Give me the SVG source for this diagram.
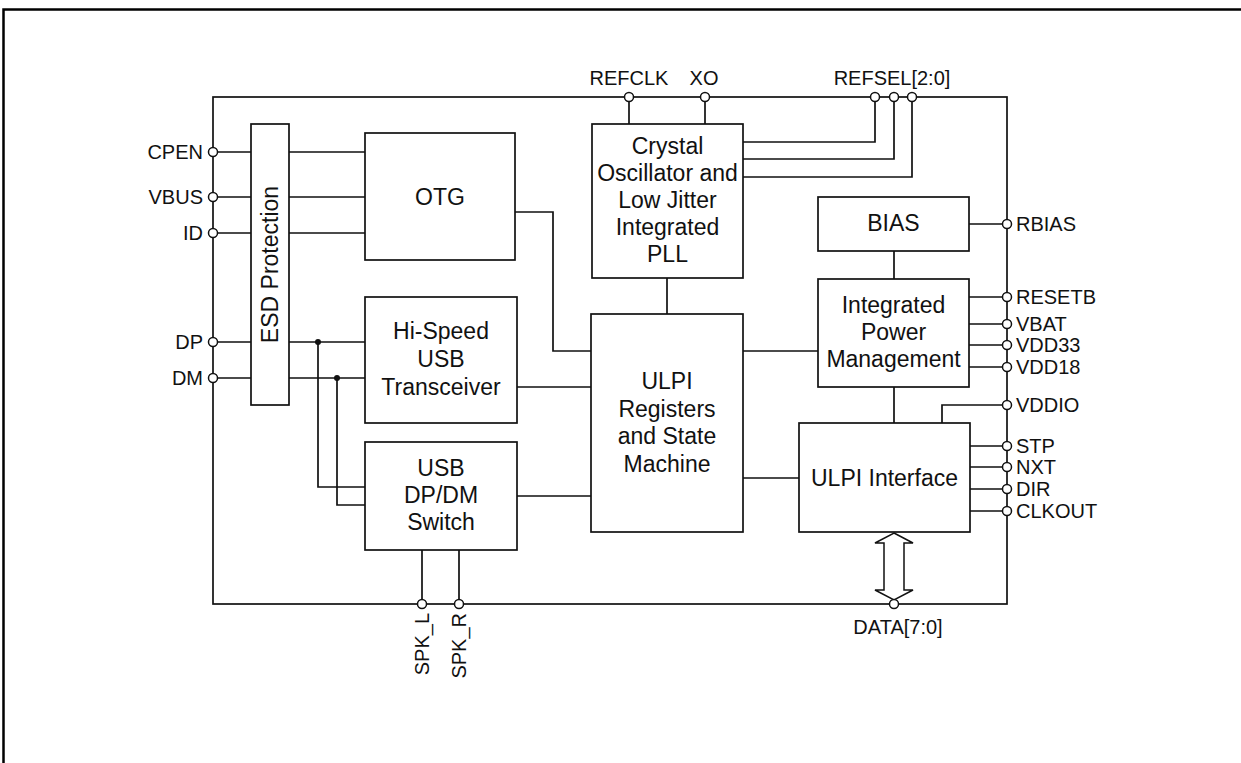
<svg xmlns="http://www.w3.org/2000/svg" width="1241" height="763" viewBox="0 0 1241 763">
<style>
.box{fill:#fff;stroke:#111;stroke-width:1.7}
.w{fill:none;stroke:#111;stroke-width:1.7}
.pin{fill:#fff;stroke:#111;stroke-width:1.5}
.dot{fill:#111}
.bt{font-family:"Liberation Sans",Arial,sans-serif;font-size:23px;fill:#111;text-anchor:middle}
.pl{font-family:"Liberation Sans",Arial,sans-serif;font-size:20px;fill:#111}
.e{text-anchor:end}
.m{text-anchor:middle}
</style>
<rect x="0" y="0" width="1241" height="763" fill="#fff"/>
<path d="M3.5,770 V9.5 H1250" fill="none" stroke="#000" stroke-width="2.5"/>

<g id="chip">
<rect x="213" y="97" width="794" height="507" fill="none" stroke="#111" stroke-width="1.7"/>
</g>

<g id="connectors">
<!-- left pins to ESD -->
<path class="w" d="M213,152 H251 M213,197 H251 M213,233 H251 M213,342 H251 M213,378 H251"/>
<!-- ESD to OTG -->
<path class="w" d="M289,152 H365 M289,197 H365 M289,233 H365"/>
<!-- ESD to transceiver -->
<path class="w" d="M289,342 H365 M289,378 H365"/>
<!-- to switch -->
<path class="w" d="M318,342 V487 H365 M337,378 V505 H365"/>
<!-- OTG to ULPI regs -->
<path class="w" d="M515,212 H553 V351 H591"/>
<!-- transceiver / switch to ULPI regs -->
<path class="w" d="M517,387 H591 M517,496 H591"/>
<!-- crystal to ULPI regs -->
<path class="w" d="M667,278 V314"/>
<!-- REFCLK / XO -->
<path class="w" d="M629,97 V124 M705,97 V124"/>
<!-- REFSEL -->
<path class="w" d="M743,142 H875 V97 M743,159 H894 V97 M743,177 H912 V97"/>
<!-- ULPI regs to power / interface -->
<path class="w" d="M743,351 H818 M743,478 H799"/>
<!-- BIAS / power / interface verticals -->
<path class="w" d="M894,251 V279 M894,387 V423"/>
<!-- right pins -->
<path class="w" d="M969,224 H1007 M969,297 H1007 M969,324 H1007 M969,345 H1007 M969,367 H1007"/>
<path class="w" d="M942,423 V405 H1007"/>
<path class="w" d="M970,446 H1007 M970,467 H1007 M970,489 H1007 M970,511 H1007"/>
<!-- SPK -->
<path class="w" d="M422,550 V604 M459,550 V604"/>
<!-- DATA bus arrow -->
<polygon points="894,533 913,543 904,543 904,590 913,590 894,600 875,590 884,590 884,543 875,543" fill="#fff" stroke="#111" stroke-width="1.5"/>
<circle class="dot" cx="318" cy="342" r="3"/>
<circle class="dot" cx="337" cy="378" r="3"/>
</g>

<g id="pins">
<circle class="pin" cx="213" cy="152" r="4.5"/>
<circle class="pin" cx="213" cy="197" r="4.5"/>
<circle class="pin" cx="213" cy="233" r="4.5"/>
<circle class="pin" cx="213" cy="342" r="4.5"/>
<circle class="pin" cx="213" cy="378" r="4.5"/>
<circle class="pin" cx="629" cy="97" r="4.5"/>
<circle class="pin" cx="705" cy="97" r="4.5"/>
<circle class="pin" cx="875" cy="97" r="4.5"/>
<circle class="pin" cx="894" cy="97" r="4.5"/>
<circle class="pin" cx="912" cy="97" r="4.5"/>
<circle class="pin" cx="1007" cy="224" r="4.5"/>
<circle class="pin" cx="1007" cy="297" r="4.5"/>
<circle class="pin" cx="1007" cy="324" r="4.5"/>
<circle class="pin" cx="1007" cy="345" r="4.5"/>
<circle class="pin" cx="1007" cy="367" r="4.5"/>
<circle class="pin" cx="1007" cy="405" r="4.5"/>
<circle class="pin" cx="1007" cy="446" r="4.5"/>
<circle class="pin" cx="1007" cy="467" r="4.5"/>
<circle class="pin" cx="1007" cy="489" r="4.5"/>
<circle class="pin" cx="1007" cy="511" r="4.5"/>
<circle class="pin" cx="422" cy="604" r="4.5"/>
<circle class="pin" cx="459" cy="604" r="4.5"/>
<circle class="pin" cx="894" cy="604" r="4.5"/>
</g>

<g id="pin-labels">
<text class="pl e" x="203" y="159">CPEN</text>
<text class="pl e" x="203" y="204">VBUS</text>
<text class="pl e" x="203" y="240">ID</text>
<text class="pl e" x="203" y="349">DP</text>
<text class="pl e" x="203" y="385">DM</text>
<text class="pl m" x="629" y="85">REFCLK</text>
<text class="pl m" x="704" y="85">XO</text>
<text class="pl m" x="892" y="85">REFSEL[2:0]</text>
<text class="pl" x="1016" y="231">RBIAS</text>
<text class="pl" x="1016" y="304">RESETB</text>
<text class="pl" x="1016" y="331">VBAT</text>
<text class="pl" x="1016" y="352">VDD33</text>
<text class="pl" x="1016" y="374">VDD18</text>
<text class="pl" x="1016" y="412">VDDIO</text>
<text class="pl" x="1016" y="453">STP</text>
<text class="pl" x="1016" y="474">NXT</text>
<text class="pl" x="1016" y="496">DIR</text>
<text class="pl" x="1016" y="518">CLKOUT</text>
<text class="pl e" transform="translate(429,613) rotate(-90)">SPK_L</text>
<text class="pl e" transform="translate(466,613) rotate(-90)">SPK_R</text>
<text class="pl m" x="898" y="634">DATA[7:0]</text>
</g>

<g id="esd">
<rect class="box" x="251" y="124" width="38" height="281"/>
<text class="bt" transform="translate(278,264.5) rotate(-90)">ESD Protection</text>
</g>

<g id="otg">
<rect class="box" x="365" y="133" width="150" height="127"/>
<text class="bt" x="440" y="205">OTG</text>
</g>

<g id="transceiver">
<rect class="box" x="365" y="297" width="152" height="126"/>
<text class="bt" x="441" y="339">Hi-Speed</text>
<text class="bt" x="441" y="367">USB</text>
<text class="bt" x="441" y="395">Transceiver</text>
</g>

<g id="switch">
<rect class="box" x="365" y="442" width="152" height="108"/>
<text class="bt" x="441" y="476">USB</text>
<text class="bt" x="441" y="503">DP/DM</text>
<text class="bt" x="441" y="530">Switch</text>
</g>

<g id="crystal">
<rect class="box" x="592" y="124" width="151" height="154"/>
<text class="bt" x="667.5" y="153.5">Crystal</text>
<text class="bt" x="667.5" y="180.5">Oscillator and</text>
<text class="bt" x="667.5" y="207.5">Low Jitter</text>
<text class="bt" x="667.5" y="234.5">Integrated</text>
<text class="bt" x="667.5" y="262">PLL</text>
</g>

<g id="ulpi-registers">
<rect class="box" x="591" y="314" width="152" height="218"/>
<text class="bt" x="667" y="389">ULPI</text>
<text class="bt" x="667" y="416.5">Registers</text>
<text class="bt" x="667" y="444">and State</text>
<text class="bt" x="667" y="471.5">Machine</text>
</g>

<g id="bias">
<rect class="box" x="818" y="197" width="151" height="54"/>
<text class="bt" x="893.5" y="231">BIAS</text>
</g>

<g id="power">
<rect class="box" x="818" y="279" width="151" height="108"/>
<text class="bt" x="893.5" y="313">Integrated</text>
<text class="bt" x="893.5" y="340">Power</text>
<text class="bt" x="893.5" y="367">Management</text>
</g>

<g id="ulpi-interface">
<rect class="box" x="799" y="423" width="171" height="109"/>
<text class="bt" x="884.5" y="485.5">ULPI Interface</text>
</g>
</svg>
